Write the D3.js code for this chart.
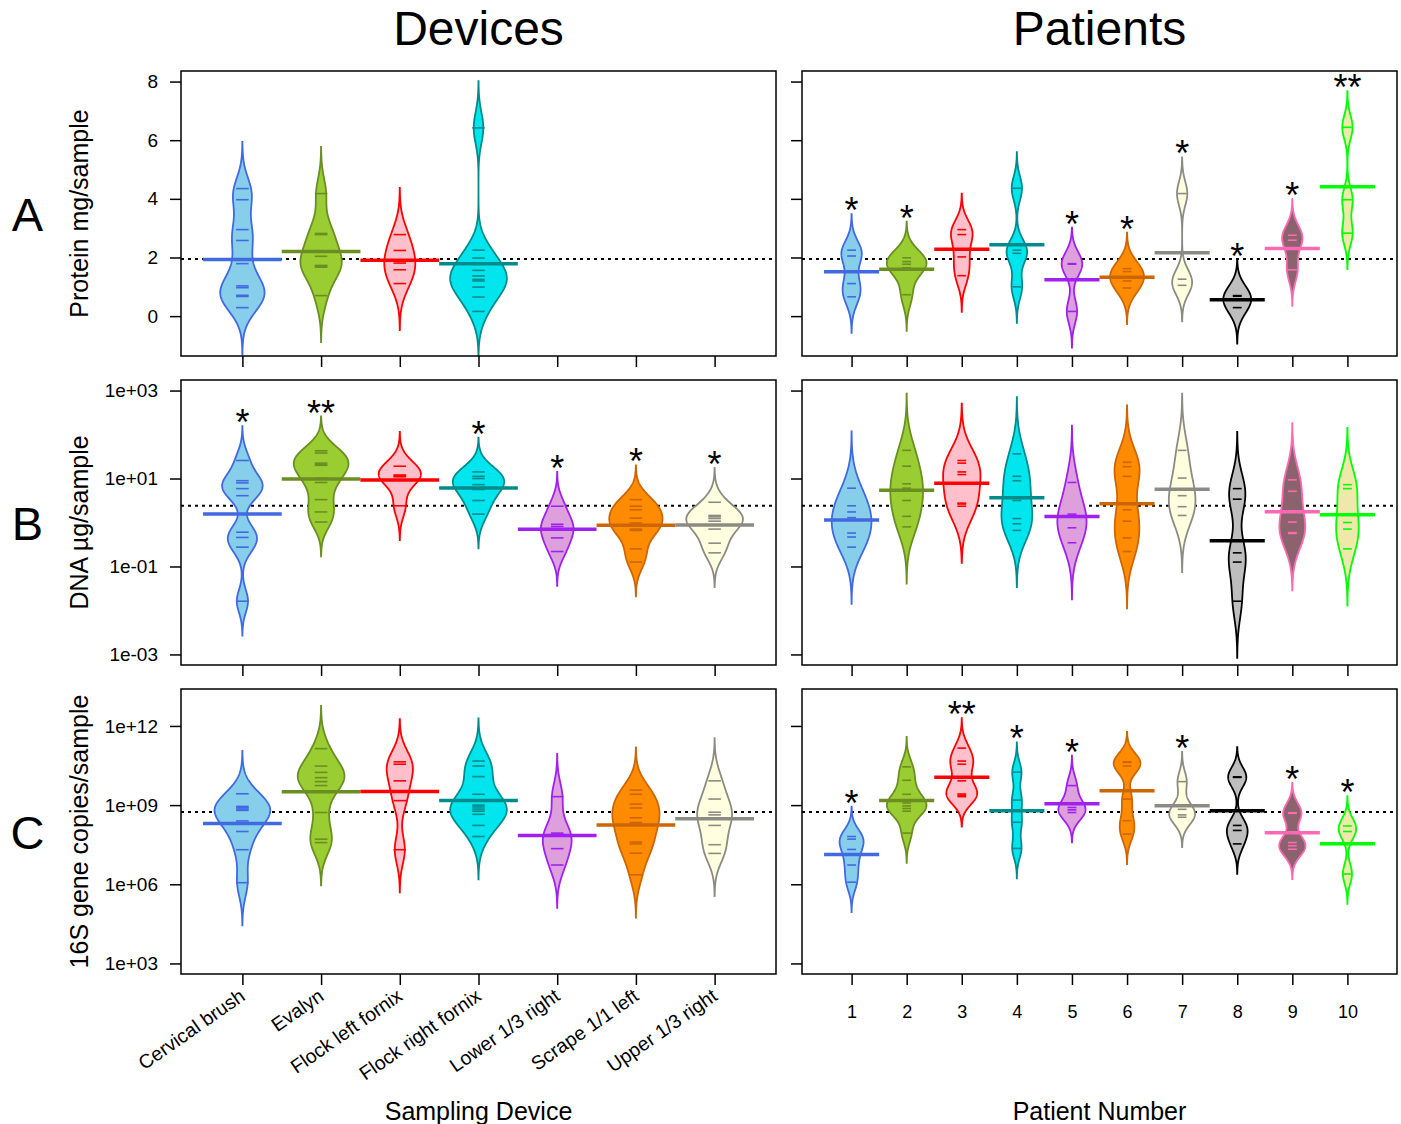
<!DOCTYPE html>
<html lang="en">
<head>
<meta charset="utf-8">
<title>Beanplots: devices and patients</title>
<script src="https://d3js.org/d3.v7.min.js"></script>
<style>
  body { margin:0; background:#ffffff; }
  svg text { font-family:"Liberation Sans", Arial, Helvetica, sans-serif; fill:#000; }
</style>
</head>
<body>
<script>

//Canvas size
var w = 1401;
var h = 1124;

//Categories
var devices = ["Cervical brush", "Evalyn", "Flock left fornix", "Flock right fornix",
               "Lower 1/3 right", "Scrape 1/1 left", "Upper 1/3 right"];
var patients = ["1", "2", "3", "4", "5", "6", "7", "8", "9", "10"];

//Bean colours (fill / lines), same order for devices and patients
var beanFill = ["#87CEEB", "#9ACD32", "#FFC0CB", "#00E5EE", "#DDA0DD",
                "#FF8C00", "#FFFFE0", "#BEBEBE", "#8B636C", "#EEE8AA"];
var beanLine = ["#4169E1", "#6B8E23", "#FF0000", "#008B8B", "#A020F0",
                "#CD6600", "#8B8B83", "#000000", "#FF69B4", "#00FF00"];

//Row A: protein mg/sample (linear values)
var proteinDevice = [
  [4.35, 3.97, 2.95, 2.58, 1.79, 1.03, 0.97, 0.71, 0.67, 0.29],
  [4.18, 2.82, 2.78, 2.04, 1.73, 1.70, 1.67, 0.70],
  [2.78, 2.24, 1.81, 1.58, 1.11],
  [6.42, 2.25, 1.98, 1.56, 1.37, 1.25, 1.20, 0.99, 0.65, 0.16],
  [], [], []
];
var proteinPatient = [
  [2.25, 2.05, 1.11, 0.66],
  [1.99, 1.86, 1.77, 1.65, 0.73],
  [2.95, 2.78, 2.02, 1.38],
  [4.36, 2.25, 2.14, 1.00],
  [1.79, 1.77, 0.16],
  [1.62, 1.52, 1.20, 0.96],
  [4.18, 1.26, 1.05],
  [0.70, 0.68, 0.29],
  [2.76, 2.59, 1.58],
  [6.44, 3.97, 2.83]
];
var proteinDeviceStars = ["", "", "", "", "", "", ""];
var proteinPatientStars = ["*", "*", "", "", "*", "*", "*", "*", "*", "**"];

//Row B: DNA ug/sample (log10 of the values)
var dnaDevice = [
  [1.41, 0.95, 0.90, 0.77, 0.61, -0.22, -0.34, -0.56, -1.79],
  [1.63, 1.58, 1.35, 1.32, 1.30, 1.01, 0.91, 0.52, 0.24, 0.01],
  [1.28, 1.08, 1.06, 1.04, 0.38],
  [1.15, 1.05, 1.00, 0.86, 0.75, 0.50, 0.19],
  [0.37, -0.04, -0.09, -0.35, -0.66],
  [0.52, 0.37, 0.29, 0.10, -0.01, -0.15, -0.18, -0.60, -0.90],
  [0.46, 0.16, 0.13, 0.09, 0.03, -0.15, -0.47, -0.69]
];
var dnaPatient = [
  [0.78, 0.38, 0.24, 0.11, -0.24, -0.33, -0.56],
  [1.64, 1.28, 0.88, 0.78, 0.50, 0.14, -0.10],
  [1.41, 1.35, 1.15, 1.09, 0.44, 0.42, 0.37],
  [1.56, 1.05, 0.95, 0.50, 0.09, -0.03, -0.18],
  [0.91, 0.19, 0.16, -0.12, -0.46],
  [1.37, 1.27, 1.05, 0.29, 0.03, -0.35, -0.66],
  [1.64, 1.01, 0.61, 0.36, 0.16],
  [0.77, 0.53, -0.69, -0.90, -1.79],
  [0.97, 0.71, 0.01, -0.23, -0.25],
  [0.86, 0.77, 0.00, -0.15, -0.60]
];
var dnaDeviceStars = ["*", "**", "", "*", "*", "*", "*"];
var dnaPatientStars = ["", "", "", "", "", "", "", "", "", ""];

//Row C: 16S gene copies/sample (log10 of the values)
var geneDevice = [
  [9.43, 8.95, 8.90, 8.85, 8.80, 8.40, 8.00, 7.31, 6.06],
  [11.14, 10.48, 10.24, 10.04, 9.89, 9.74, 8.72, 7.71, 7.58],
  [10.64, 10.55, 9.92, 9.17, 7.31],
  [10.67, 10.48, 10.08, 9.41, 9.00, 8.93, 8.85, 8.77, 8.65, 8.23, 7.81],
  [9.32, 7.94, 7.89, 7.35, 6.73],
  [9.57, 9.41, 9.04, 8.89, 8.52, 8.34, 8.28, 7.60, 7.53, 7.18, 6.36],
  [9.92, 9.23, 8.73, 8.63, 8.23, 7.50, 7.17]
];
var genePatient = [
  [7.81, 7.71, 7.32, 6.73, 6.08],
  [10.45, 9.94, 9.41, 9.08, 8.97, 8.87, 8.77, 7.94],
  [11.16, 10.67, 10.55, 9.92, 9.42, 9.37, 9.32],
  [10.25, 9.19, 8.35, 7.36],
  [9.74, 8.91, 8.82, 8.72],
  [10.64, 10.62, 10.48, 9.23, 8.41, 7.90],
  [9.89, 8.84, 8.63, 8.54],
  [10.07, 10.05, 8.23, 8.04, 7.53],
  [8.71, 8.69, 7.58, 7.46, 7.33],
  [8.21, 8.00, 6.39]
];
var geneDeviceStars = ["", "", "", "", "", "", ""];
var genePatientStars = ["*", "", "**", "*", "*", "", "*", "", "*", "*"];

//Kernel bandwidths of the original beans (devices, patients), in plotted units
var proteinBw = [0.53, 0.41];
var dnaBw = [0.26, 0.43];
var geneBw = [0.54, 0.377];

var rows = [
  {label:"A", ytitle:"Protein mg/sample", log:false, lim:[-1.36, 8.36], ticks:[0, 2, 4, 6, 8],
   dev:proteinDevice, pat:proteinPatient, devStars:proteinDeviceStars, patStars:proteinPatientStars, bw:proteinBw},
  {label:"B", ytitle:"DNA \u00b5g/sample", log:true, lim:[-3.24, 3.24], ticks:[-3, -1, 1, 3],
   dev:dnaDevice, pat:dnaPatient, devStars:dnaDeviceStars, patStars:dnaPatientStars, bw:dnaBw},
  {label:"C", ytitle:"16S gene copies/sample", log:true, lim:[2.6, 13.4], ticks:[3, 6, 9, 12],
   dev:geneDevice, pat:genePatient, devStars:geneDeviceStars, patStars:genePatientStars, bw:geneBw}
];

//Layout
var rowTop = [71, 380, 689];
var rowH = 285;
var panelX = [[181, 776], [802, 1397]];
var font = '"Liberation Sans", Arial, Helvetica, sans-serif';

//Gaussian kernel density, cut at 3 bandwidths; small groups are shrunk (grownage 10)
var density = function(vals, bw) {
  var lo = d3.min(vals) - 3 * bw, hi = d3.max(vals) + 3 * bw;
  var n = vals.length, grow = Math.min(1, n / 10);
  return d3.range(0, 241).map(function(k) {
    var y = lo + (hi - lo) * k / 240;
    var s = d3.sum(vals, function(v) { var z = (y - v) / bw; return Math.exp(-0.5 * z * z); });
    return {y: y, d: grow * s / (n * bw * Math.sqrt(2 * Math.PI))};
  });
};

var logLabel = function(e) {
  var a = Math.abs(e);
  return "1e" + (e < 0 ? "-" : "+") + (a < 10 ? "0" : "") + a;
};

var svg = d3.select("body").append("svg")
            .attr("width", w)
            .attr("height", h);

//Column titles
svg.append("text").attr("x", 478.5).attr("y", 45).attr("text-anchor", "middle")
   .style("font-size", "48px").text("Devices");
svg.append("text").attr("x", 1099.5).attr("y", 45).attr("text-anchor", "middle")
   .style("font-size", "48px").text("Patients");

rows.forEach(function(row, r) {
  var top = rowTop[r], bottom = top + rowH;

  var yScale = row.log ?
      d3.scaleLog().domain([Math.pow(10, row.lim[0]), Math.pow(10, row.lim[1])]) :
      d3.scaleLinear().domain(row.lim);
  yScale.range([bottom, top]);
  var yv = function(v) { return row.log ? yScale(Math.pow(10, v)) : yScale(v); };
  var tickVals = row.ticks.map(function(t) { return row.log ? Math.pow(10, t) : t; });

  //grand mean of all samples (log scale for B and C)
  var grand = d3.mean(d3.merge(row.dev));

  //row letter and y title
  svg.append("text").attr("x", 27.5).attr("y", (top + bottom) / 2 + 17)
     .attr("text-anchor", "middle").style("font-size", "47px").text(row.label);
  svg.append("text")
     .attr("transform", "translate(88," + ((top + bottom) / 2) + ") rotate(-90)")
     .attr("text-anchor", "middle").style("font-size", "25px").text(row.ytitle);

  [0, 1].forEach(function(side) {
    var cats = side === 0 ? devices : patients;
    var groups = side === 0 ? row.dev : row.pat;
    var stars = side === 0 ? row.devStars : row.patStars;
    var bw = row.bw[side];
    var n = cats.length;
    var pad = 0.04 * n;

    var xScale = d3.scaleLinear()
                   .domain([0.5 - pad, n + 0.5 + pad])
                   .range(panelX[side]);
    var unit = xScale(1) - xScale(0);

    var g = svg.append("g");
    var clipId = "clip" + r + "_" + side;
    g.append("clipPath").attr("id", clipId)
     .append("rect")
     .attr("x", panelX[side][0]).attr("y", top)
     .attr("width", panelX[side][1] - panelX[side][0]).attr("height", rowH);
    var inner = g.append("g").attr("clip-path", "url(#" + clipId + ")");

    //overall line behind the beans
    inner.append("line")
         .attr("x1", panelX[side][0]).attr("x2", panelX[side][1])
         .attr("y1", yv(grand)).attr("y2", yv(grand))
         .attr("stroke", "#000").attr("stroke-width", 2)
         .attr("stroke-dasharray", "3,4");

    var beans = groups.map(function(vals) { return vals.length ? density(vals, bw) : null; });
    var maxD = d3.max(beans, function(b) { return b ? d3.max(b, function(p) { return p.d; }) : 0; });
    var half = d3.scaleLinear().domain([0, maxD]).range([0, 0.36 * unit]);

    beans.forEach(function(b, i) {
      if (!b) return;
      var cx = xScale(i + 1);
      var vals = groups[i];
      var area = d3.area()
                   .x0(function(p) { return cx - half(p.d); })
                   .x1(function(p) { return cx + half(p.d); })
                   .y(function(p) { return yv(p.y); });

      inner.append("path")
           .datum(b)
           .attr("d", area)
           .attr("fill", beanFill[i])
           .attr("stroke", beanLine[i])
           .attr("stroke-width", 1.8);

      inner.selectAll(null)
           .data(vals)
           .enter()
           .append("line")
           .attr("x1", cx - 0.08 * unit).attr("x2", cx + 0.08 * unit)
           .attr("y1", function(v) { return yv(v); })
           .attr("y2", function(v) { return yv(v); })
           .attr("stroke", beanLine[i])
           .attr("stroke-width", 1.6);

      var m = d3.mean(vals);
      inner.append("line")
           .attr("x1", cx - 0.5 * unit).attr("x2", cx + 0.5 * unit)
           .attr("y1", yv(m)).attr("y2", yv(m))
           .attr("stroke", beanLine[i])
           .attr("stroke-width", 3.5);

      if (stars[i]) {
        g.append("text")
         .attr("x", cx)
         .attr("y", yv(d3.max(vals) + 3 * bw) + 9)
         .attr("text-anchor", "middle")
         .style("font-size", "36px")
         .text(stars[i]);
      }
    });

    //panel frame
    g.append("rect")
     .attr("x", panelX[side][0]).attr("y", top)
     .attr("width", panelX[side][1] - panelX[side][0]).attr("height", rowH)
     .attr("fill", "none").attr("stroke", "#000").attr("stroke-width", 1.5);

    //Y axis
    var yAxis = d3.axisLeft(yScale)
                  .tickValues(tickVals)
                  .tickSize(11)
                  .tickPadding(12)
                  .tickFormat(function(d) {
                    if (side === 1) return "";
                    return row.log ? logLabel(Math.round(Math.log10(d))) : d;
                  });
    var ya = svg.append("g")
                .attr("transform", "translate(" + panelX[side][0] + ",0)")
                .call(yAxis);

    //X axis
    var xAxis = d3.axisBottom(xScale)
                  .tickValues(d3.range(1, n + 1))
                  .tickSize(11)
                  .tickPadding(20)
                  .tickFormat(function(d) { return (r === 2 && side === 1) ? cats[d - 1] : ""; });
    var xa = svg.append("g")
                .attr("transform", "translate(0," + bottom + ")")
                .call(xAxis);

    [ya, xa].forEach(function(a) {
      a.select(".domain").remove();
      a.selectAll(".tick line").attr("stroke-width", 1.5);
      a.selectAll("text").style("font-family", font);
    });
    ya.selectAll("text").style("font-size", "19px");
    xa.selectAll("text").style("font-size", "18px");

    //slanted device names under the last row
    if (r === 2 && side === 0) {
      svg.selectAll(null)
         .data(devices)
         .enter()
         .append("text")
         .attr("transform", function(d, i) {
           return "translate(" + (xScale(i + 1) + 4) + "," + (bottom + 25) + ") rotate(-35)";
         })
         .attr("text-anchor", "end")
         .style("font-size", "19.5px")
         .text(function(d) { return d; });
    }
  });
});

//X titles
svg.append("text").attr("x", 478.5).attr("y", 1120).attr("text-anchor", "middle")
   .style("font-size", "25px").text("Sampling Device");
svg.append("text").attr("x", 1099.5).attr("y", 1120).attr("text-anchor", "middle")
   .style("font-size", "25px").text("Patient Number");

</script>
</body>
</html>
